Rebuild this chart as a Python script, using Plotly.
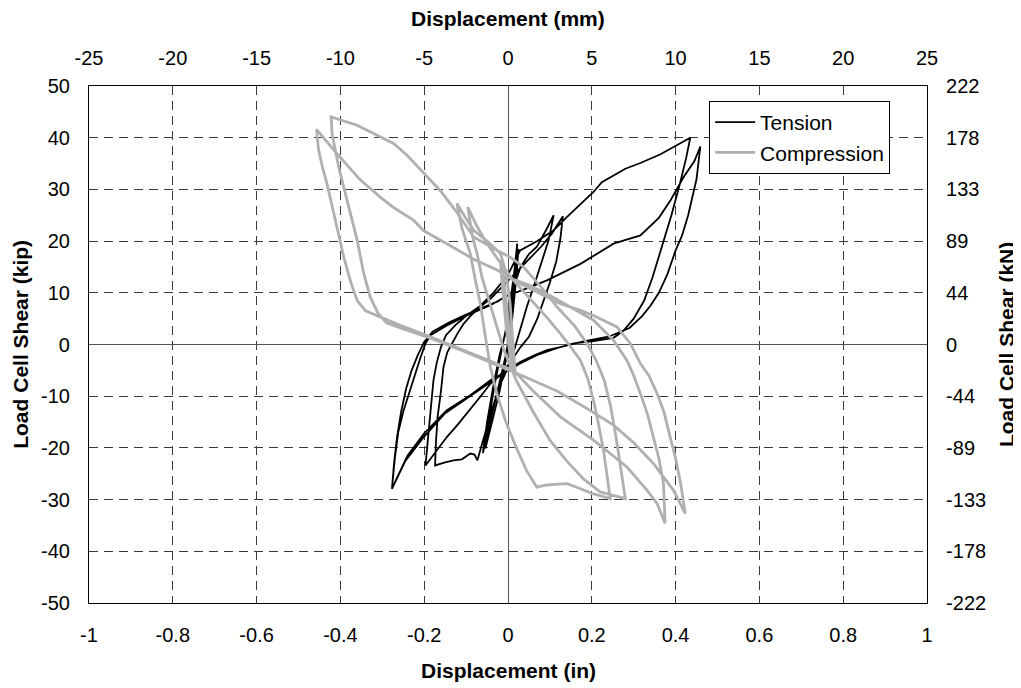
import plotly.graph_objects as go

# ---------------- data ----------------
tension_disp_in = [
    0, 0.008, 0.015, 0.022, 0.016, 0.008, -0.005, -0.02, -0.035, -0.05, -0.054, -0.045, -0.03, -0.015, 0.0, 0.01, 0.018, 0.025, 0.02, 0.01, -0.005, -0.025, -0.045, -0.06, -0.05, -0.035, -0.02, 0.0,
    0.013, 0.03, 0.05, 0.069, 0.09, 0.109, 0.097, 0.083, 0.069, 0.045, 0.029, 0.015, 0.0, -0.02, -0.04, -0.055, -0.065, -0.073, -0.08, -0.09, -0.11, -0.13, -0.15, -0.174,
    -0.172, -0.168, -0.16, -0.154, -0.145, -0.134, -0.12, -0.106, -0.09, -0.066, -0.04, -0.01, 0.02, 0.05, 0.08, 0.105, 0.131, 0.125, 0.115, 0.1, 0.085, 0.07, 0.05, 0.03, 0.013, 0.0, -0.02, -0.042, -0.07, -0.098, -0.12, -0.146, -0.17, -0.197,
    -0.193, -0.19, -0.185, -0.178, -0.17, -0.16, -0.148, -0.125, -0.1, -0.066, -0.035, 0.0, 0.029, 0.07, 0.109, 0.141, 0.204, 0.224, 0.28, 0.316, 0.364, 0.4, 0.435, 0.425, 0.41, 0.39, 0.375, 0.363, 0.345, 0.325, 0.3, 0.276, 0.252, 0.2, 0.157, 0.125, 0.093, 0.06, 0.029, 0.013, -0.01, -0.042, -0.09, -0.146, -0.2, -0.24, -0.277,
    -0.27, -0.262, -0.249, -0.237, -0.225, -0.21, -0.197, -0.185, -0.146, -0.098, -0.042, 0.0, 0.05, 0.093, 0.173, 0.252, 0.316, 0.36, 0.388, 0.42, 0.445, 0.459, 0.45, 0.43, 0.415, 0.4, 0.38, 0.36, 0.34, 0.32, 0.29, 0.276, 0.24, 0.18, 0.12, 0.07, 0.03, 0.0, -0.04, -0.1, -0.15, -0.2, -0.245, -0.277,
    -0.272, -0.265, -0.255, -0.243, -0.23, -0.215, -0.2, -0.18, -0.14, -0.1, -0.05, -0.02,
]
tension_shear_kip = [
    0, 8, 14, 19.5, 12, 4, -3, -9, -14, -19, -20.1, -14, -7, -1, 5, 11, 16, 18.5, 13, 5, -2, -9, -16, -21, -15, -8, -2, 4,
    11, 15, 17.5, 18.9, 22, 25, 20.2, 16.5, 13.1, 7.3, 3, -1, -4.5, -8, -13, -17.5, -20.5, -22.4, -21.3, -21.1, -22.2, -22.4, -22.8, -23.4,
    -19, -14, -9, -4.4, -1.5, 0.2, 2.2, 4, 5.5, 7.3, 9, 11.5, 14, 16.5, 19, 21.5, 24.8, 20.5, 16, 12, 8.5, 5, 1.5, -0.5, -2.5, -4, -6, -7.6, -10.5, -13.4, -15.5, -17.9, -20.5, -23.4,
    -20, -17.2, -12, -7, -3.5, -0.5, 1.8, 3.8, 5.5, 7.5, 10, 13.5, 18.2, 20, 22.1, 24.7, 29.5, 31.4, 34.0, 35.1, 36.8, 38.5, 40, 36, 31, 25, 21, 18.2, 13, 8.5, 5, 2.7, 1.3, 0.6, 0.2, -0.5, -1.1, -2.2, -3.4, -4.2, -5.5, -6.9, -9.8, -12.7, -17.2, -21.5, -27.9,
    -22, -17, -12.7, -9.5, -6.3, -2.8, 0.2, 1.8, 3.7, 5.6, 7.6, 9.5, 11, 12.4, 15.6, 19.5, 21.1, 24.5, 27.9, 32.5, 35.5, 38.3, 32, 25, 21, 18.2, 13.5, 10, 7.5, 5.5, 3.2, 2.7, 1.5, 0.6, -0.6, -2, -3.6, -5, -7.2, -10.5, -13.3, -17.8, -22.5, -27.9,
    -23, -18, -13, -8.5, -5, -2, 0.5, 2.5, 4.3, 5.8, 7.4, 8.5,
]

compression_disp_in = [
    0, -0.005, -0.012, -0.018, -0.012, -0.004, 0.005, 0.012, 0.008, 0.0, -0.008, -0.015, -0.01, 0.0, 0.01, 0.018,
    0.012, 0.005, -0.005, -0.018, -0.05, -0.082, -0.105, -0.122, -0.11, -0.09, -0.078, -0.066, -0.055, -0.042, -0.025, -0.005, 0.02, 0.045, 0.069, 0.09, 0.12, 0.141, 0.17, 0.2, 0.244,
    0.235, 0.228, 0.215, 0.204, 0.19, 0.173, 0.15, 0.125, 0.09, 0.05, 0.013, -0.02, -0.05, -0.075, -0.096, -0.085, -0.074, -0.062, -0.05, -0.03, -0.01, 0.02, 0.06, 0.1, 0.14, 0.18, 0.22, 0.28,
    0.27, 0.258, 0.245, 0.23, 0.21, 0.19, 0.16, 0.12, 0.08, 0.037, 0.005, -0.026, -0.082, -0.126, -0.162, -0.201, -0.241, -0.273, -0.313, -0.36, -0.422, -0.42, -0.404, -0.384, -0.36, -0.345, -0.329, -0.31, -0.29, -0.257, -0.185, -0.106, -0.042, 0.013, 0.061, 0.117, 0.189, 0.252, 0.3, 0.347, 0.395, 0.419, 0.423,
    0.412, 0.4, 0.387, 0.372, 0.356, 0.336, 0.316, 0.292, 0.26, 0.204, 0.173, 0.125, 0.093, 0.013, -0.026, -0.082, -0.146, -0.201, -0.225, -0.273, -0.305, -0.352, -0.408, -0.457, -0.452, -0.442, -0.432, -0.42, -0.408, -0.392, -0.375, -0.36, -0.34, -0.304, -0.257, -0.185, -0.106, -0.042, 0.013, 0.06, 0.125, 0.204, 0.284, 0.33, 0.356, 0.375,
    0.371, 0.36, 0.347, 0.333, 0.316, 0.3, 0.284, 0.252, 0.204, 0.149, 0.1, 0.05, 0.0,
]
compression_shear_kip = [
    0, 6, 12, 16, 10, 3, -2, -5, -1, 5, 11, 16.5, 10, 2, -3, -6,
    0, 8, 14, 17.6, 20, 22.1, 25, 27.3, 22.5, 17.6, 12.5, 7.9, 2, -4.4, -10, -15, -20, -24.5, -27.6, -27.2, -27.0, -26.9, -27.8, -28.8, -29.8,
    -24, -20.5, -15, -10.8, -6.5, -3.1, -0.5, 2.1, 5.5, 9, 12.4, 16, 19.5, 23, 26.6, 21, 17.6, 13, 9.8, 4.7, -1, -7, -13, -18.5, -22.5, -26, -28.5, -29.8,
    -24, -18, -12, -7, -3, 0, 3.5, 7, 11, 15, 16.9, 18.2, 20.8, 26, 29.8, 33.1, 36.6, 38.9, 40.5, 42.4, 44, 40.8, 34.3, 27.9, 20.2, 14, 9.2, 6, 4.2, 3.2, 1.2, -1.3, -3.4, -5.3, -7, -9, -12.4, -15.6, -19, -23, -28.2, -32.1, -32.7,
    -26.9, -22, -17.9, -13, -9.5, -6, -3.7, 0.2, 3.4, 5.6, 6.6, 7.9, 9.2, 12.4, 14.4, 16.5, 19.5, 22, 24, 26.5, 28.5, 31.8, 36.9, 41.6, 37.6, 34, 31.1, 27, 22.7, 16.9, 12, 8.5, 6.5, 5.3, 3.7, 1.5, -1.1, -3.1, -5, -9, -14, -18.5, -23.7, -28, -30.8, -34.6,
    -26.9, -22, -17.9, -13.5, -9.5, -6, -3.1, 0.8, 4.7, 7.3, 9.5, 11.5, 13,
]

x_in_ticks = [-1, -0.8, -0.6, -0.4, -0.2, 0, 0.2, 0.4, 0.6, 0.8, 1]
x_mm_ticks = [-25, -20, -15, -10, -5, 0, 5, 10, 15, 20, 25]
y_kip_ticks = [-50, -40, -30, -20, -10, 0, 10, 20, 30, 40, 50]
y_kn_labels = ["-222", "-178", "-133", "-89", "-44", "0", "44", "89", "133", "178", "222"]

# ---------------- figure ----------------
FONT = "Arial, Liberation Sans, sans-serif"


def hyphen_labels(vals):
    return [f"{v:g}" for v in vals]


fig = go.Figure()
fig.add_trace(go.Scatter(x=tension_disp_in, y=tension_shear_kip, mode="lines", name="Tension",
                         line=dict(color="#000000", width=1.8)))
fig.add_trace(go.Scatter(x=compression_disp_in, y=compression_shear_kip, mode="lines", name="Compression",
                         line=dict(color="#b0b0b0", width=2.8)))
# invisible traces to activate the secondary axes
fig.add_trace(go.Scatter(x=[-25, 25], y=[0, 0], xaxis="x2", yaxis="y", mode="lines",
                         line=dict(width=0), showlegend=False, hoverinfo="skip"))
fig.add_trace(go.Scatter(x=[-1, 1], y=[-50, 50], xaxis="x", yaxis="y2", mode="lines",
                         line=dict(width=0), showlegend=False, hoverinfo="skip"))

axis_common = dict(showline=True, linecolor="#000000", linewidth=1.2, ticks="",
                   tickfont=dict(family=FONT, size=20, color="#000000"))
grid_common = dict(showgrid=True, gridcolor="#3a3a3a", griddash="9px,6px", gridwidth=1,
                   zeroline=True, zerolinecolor="#555555", zerolinewidth=1.2)

fig.update_layout(
    width=1021, height=688,
    margin=dict(l=81, r=102, t=78, b=93),
    paper_bgcolor="white", plot_bgcolor="white",
    font=dict(family=FONT, color="#000000"),
    xaxis=dict(range=[-1, 1], tickvals=x_in_ticks, ticktext=hyphen_labels(x_in_ticks),
               mirror=True, ticklabelstandoff=14, **grid_common, **axis_common),
    yaxis=dict(range=[-50, 50], tickvals=y_kip_ticks, ticktext=hyphen_labels(y_kip_ticks),
               mirror=True, ticklabelstandoff=14, **grid_common, **axis_common),
    xaxis2=dict(range=[-25, 25], tickvals=x_mm_ticks, ticktext=hyphen_labels(x_mm_ticks),
                overlaying="x", side="top",
                showgrid=False, zeroline=False, ticklabelstandoff=12, **axis_common),
    yaxis2=dict(range=[-50, 50], tickvals=y_kip_ticks, ticktext=y_kn_labels, overlaying="y",
                side="right", showgrid=False, zeroline=False, ticklabelstandoff=14, **axis_common),
    legend=dict(x=0.74, y=0.971, xanchor="left", yanchor="top",
                bgcolor="white", bordercolor="#000000", borderwidth=1,
                font=dict(family=FONT, size=21, color="#000000"),
                tracegroupgap=0, itemwidth=40),
    showlegend=True,
)

title_font = dict(family=FONT, size=21, color="#000000")
fig.add_annotation(text="<b>Displacement (in)</b>", xref="paper", yref="paper", x=0.5, y=-0.13,
                   showarrow=False, font=title_font, xanchor="center", yanchor="middle")
fig.add_annotation(text="<b>Displacement (mm)</b>", xref="paper", yref="paper", x=0.5, y=1.131,
                   showarrow=False, font=title_font, xanchor="center", yanchor="middle")
fig.add_annotation(text="<b>Load Cell Shear (kip)</b>", xref="paper", yref="paper", x=-0.082, y=0.5,
                   showarrow=False, font=title_font, textangle=-90, xanchor="center", yanchor="middle")
fig.add_annotation(text="<b>Load Cell Shear (kN)</b>", xref="paper", yref="paper", x=1.095, y=0.5,
                   showarrow=False, font=title_font, textangle=-90, xanchor="center", yanchor="middle")

fig.write_html("out.html")
